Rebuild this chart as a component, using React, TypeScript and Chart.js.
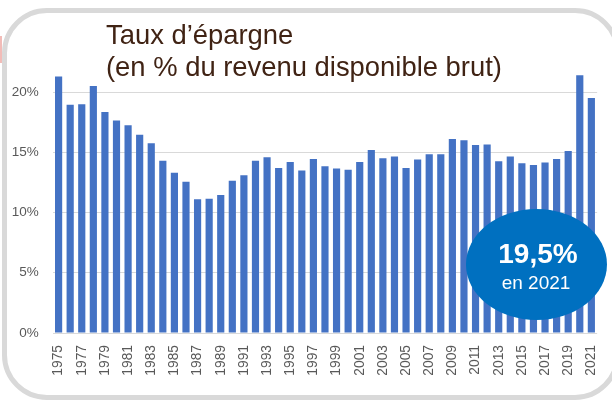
import React, { useEffect, useRef } from "react";
import { Chart, registerables } from "chart.js";

Chart.register(...registerables);

const years: string[] = [
  "1975","1976","1977","1978","1979","1980","1981","1982","1983","1984",
  "1985","1986","1987","1988","1989","1990","1991","1992","1993","1994",
  "1995","1996","1997","1998","1999","2000","2001","2002","2003","2004",
  "2005","2006","2007","2008","2009","2010","2011","2012","2013","2014",
  "2015","2016","2017","2018","2019","2020","2021",
];

const savingsRate: number[] = [
  21.3, 18.95, 19.0, 20.5, 18.35, 17.65, 17.25, 16.45, 15.75, 14.3,
  13.3, 12.55, 11.1, 11.15, 11.45, 12.65, 13.1, 14.3, 14.6, 13.7,
  14.2, 13.5, 14.45, 13.85, 13.65, 13.55, 14.2, 15.2, 14.5, 14.65,
  13.7, 14.4, 14.85, 14.85, 16.1, 16.0, 15.6, 15.65, 14.25, 14.65,
  14.1, 13.95, 14.15, 14.45, 15.1, 21.4, 19.5,
];

const yTicks: number[] = [0, 5, 10, 15, 20];

const titleLines: string[] = ["Taux d\u2019épargne", "(en % du revenu disponible brut)"];
const badgeValue = "19,5%";
const badgeSub = "en 2021";

const FONT = "'Liberation Sans', Arial, Helvetica, sans-serif";

export default function App() {
  const canvasRef = useRef<HTMLCanvasElement | null>(null);

  useEffect(() => {
    if (!canvasRef.current) return;
    const chart = new Chart(canvasRef.current, {
      type: "bar",
      data: {
        labels: years,
        datasets: [
          {
            data: savingsRate,
            backgroundColor: "#4472C4",
            borderWidth: 0,
            categoryPercentage: 1,
            barPercentage: 0.62,
          },
        ],
      },
      options: {
        responsive: false,
        animation: false,
        layout: { padding: { left: 0, top: 68, right: 7.6, bottom: 0 } },
        plugins: { legend: { display: false }, tooltip: { enabled: false }, title: { display: false } },
        scales: {
          x: {
            grid: { display: false },
            border: { display: false },
            ticks: {
              autoSkip: false,
              minRotation: 90,
              maxRotation: 90,
              padding: 4,
              color: "#595959",
              font: { family: FONT, size: 13.8 },
              callback: (_v: any, i: number) => (i % 2 === 0 ? years[i] : ""),
            },
            afterFit: (scale: any) => {
              scale.height = 67;
            },
          },
          y: {
            min: 0,
            max: 22,
            grid: { color: "#d9d9d9", lineWidth: 1, drawTicks: false },
            border: { display: false },
            ticks: {
              padding: 14,
              color: "#595959",
              font: { family: FONT, size: 13.5 },
              callback: (v: any) => v + "%",
            },
            afterBuildTicks: (scale: any) => {
              scale.ticks = yTicks.map((v) => ({ value: v }));
            },
            afterFit: (scale: any) => {
              scale.width = 52.8;
            },
          },
        },
      },
    });
    return () => chart.destroy();
  }, []);

  return (
    <div
      style={{
        position: "absolute",
        left: 0,
        top: 0,
        width: 612,
        height: 400,
        overflow: "hidden",
        background: "#ffffff",
        fontFamily: FONT,
      }}
    >
      <div
        style={{
          position: "absolute",
          left: 2,
          top: 8,
          width: 618,
          height: 392,
          boxSizing: "border-box",
          border: "5px solid #d9d9d9",
          borderRadius: 45,
        }}
      />
      <div style={{ position: "absolute", left: 0, top: 36, width: 2, height: 27, background: "#f2bcb8" }} />
      <canvas ref={canvasRef} width={612} height={400} style={{ position: "absolute", left: 0, top: 0 }} />
      <div
        style={{
          position: "absolute",
          left: 106,
          top: 19,
          fontSize: 27.4,
          lineHeight: "32px",
          color: "#402314",
          whiteSpace: "nowrap",
        }}
      >
        {titleLines.map((t, i) => (
          <div key={i}>{t}</div>
        ))}
      </div>
      <div
        style={{
          position: "absolute",
          left: 465.5,
          top: 209,
          width: 141,
          height: 111,
          borderRadius: "50%",
          background: "#0070C0",
        }}
      />
      <div
        style={{
          position: "absolute",
          left: 465.5,
          top: 237.6,
          width: 145,
          textAlign: "center",
          fontSize: 28,
          lineHeight: "32px",
          fontWeight: "bold",
          color: "#ffffff",
        }}
      >
        {badgeValue}
      </div>
      <div
        style={{
          position: "absolute",
          left: 465.5,
          top: 272.4,
          width: 141,
          textAlign: "center",
          fontSize: 19,
          lineHeight: "22px",
          color: "#ffffff",
        }}
      >
        {badgeSub}
      </div>
    </div>
  );
}
